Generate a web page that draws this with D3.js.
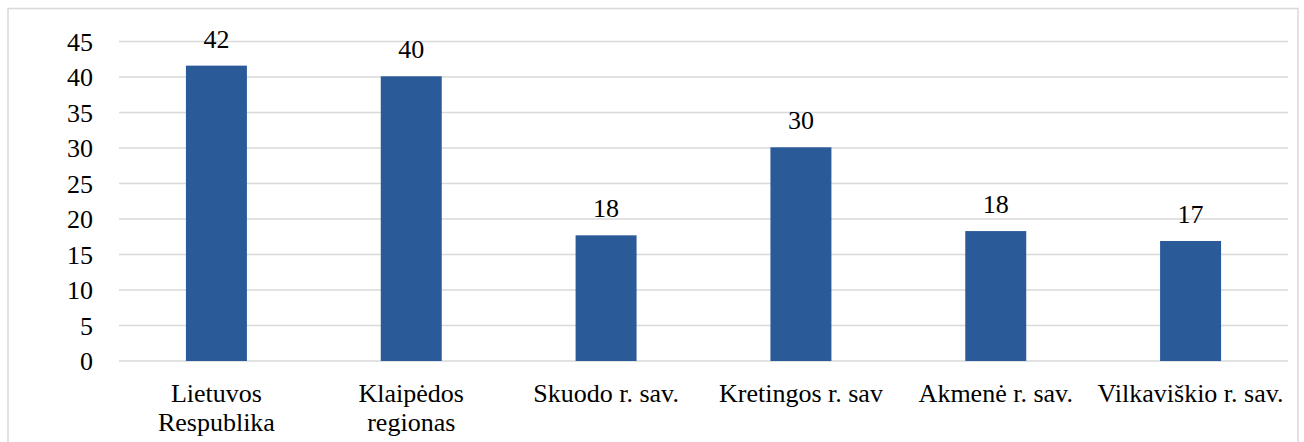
<!DOCTYPE html>
<html>
<head>
<meta charset="utf-8">
<script src="https://cdn.jsdelivr.net/npm/d3@7"></script>
<style>
  body { margin: 0; background: #fff; }
</style>
</head>
<body>
<div id="chart"></div>
<script>
// data
const categories = ["Lietuvos Respublika", "Klaipėdos regionas", "Skuodo r. sav.", "Kretingos r. sav", "Akmenė r. sav.", "Vilkaviškio r. sav."];
const values = [41.6, 40.1, 17.7, 30.1, 18.3, 16.9];
const valueLabels = ["42", "40", "18", "30", "18", "17"];
const yTicks = [0, 5, 10, 15, 20, 25, 30, 35, 40, 45];

// wrapping for the long category names
const catLines = {
  "Lietuvos Respublika": ["Lietuvos", "Respublika"],
  "Klaipėdos regionas": ["Klaipėdos", "regionas"]
};

const width = 1304;
const height = 442;
const barColor = "#2a5a98";
const gridColor = "#d9d9d9";
const font = "Liberation Serif";
const fontSize = "26px";

const svg = d3.select("#chart").append("svg")
  .attr("width", width)
  .attr("height", height);

// outer frame
svg.append("rect")
  .attr("x", 8)
  .attr("y", 8.5)
  .attr("width", 1290)
  .attr("height", 450)
  .attr("fill", "none")
  .attr("stroke", gridColor)
  .attr("stroke-width", 1.5);

const x = d3.scaleBand()
  .domain(categories)
  .range([119, 1288])
  .paddingInner(0.687)
  .paddingOuter(0.3435);

const y = d3.scaleLinear()
  .domain([0, 45])
  .range([361, 41.5]);

// gridlines
svg.append("g")
  .selectAll("line")
  .data(yTicks)
  .join("line")
  .attr("x1", 119)
  .attr("x2", 1288)
  .attr("y1", (d) => y(d))
  .attr("y2", (d) => y(d))
  .attr("stroke", gridColor)
  .attr("stroke-width", 1.5);

// y axis labels
const yAxis = d3.axisLeft(y).tickValues(yTicks).tickSize(0).tickPadding(0);
const yg = svg.append("g")
  .attr("transform", "translate(93,0)")
  .call(yAxis)
  .attr("font-family", font)
  .attr("font-size", 26);
yg.select(".domain").remove();
yg.selectAll("text")
  .style("font-family", font)
  .style("font-size", fontSize)
  .style("fill", "#000")
  .attr("dy", "0.33em");

// bars
svg.append("g")
  .selectAll("rect")
  .data(values)
  .join("rect")
  .attr("x", (d, i) => x(categories[i]))
  .attr("y", (d) => y(d))
  .attr("width", x.bandwidth())
  .attr("height", (d) => y(0) - y(d))
  .attr("fill", barColor);

// value labels
svg.append("g")
  .selectAll("text")
  .data(values)
  .join("text")
  .attr("x", (d, i) => x(categories[i]) + x.bandwidth() / 2)
  .attr("y", (d) => y(d) - 18)
  .attr("text-anchor", "middle")
  .style("font-family", font)
  .style("font-size", fontSize)
  .style("fill", "#000")
  .text((d, i) => valueLabels[i]);

// category labels
const cat = svg.append("g")
  .selectAll("text")
  .data(categories)
  .join("text")
  .attr("x", (d) => x(d) + x.bandwidth() / 2)
  .attr("y", 402)
  .attr("text-anchor", "middle")
  .style("font-family", font)
  .style("font-size", fontSize)
  .style("fill", "#000");

cat.selectAll("tspan")
  .data((d) => catLines[d] || [d])
  .join("tspan")
  .attr("x", function () { return d3.select(this.parentNode).attr("x"); })
  .attr("dy", (d, i) => (i === 0 ? 0 : 29))
  .text((d) => d);
</script>
</body>
</html>
